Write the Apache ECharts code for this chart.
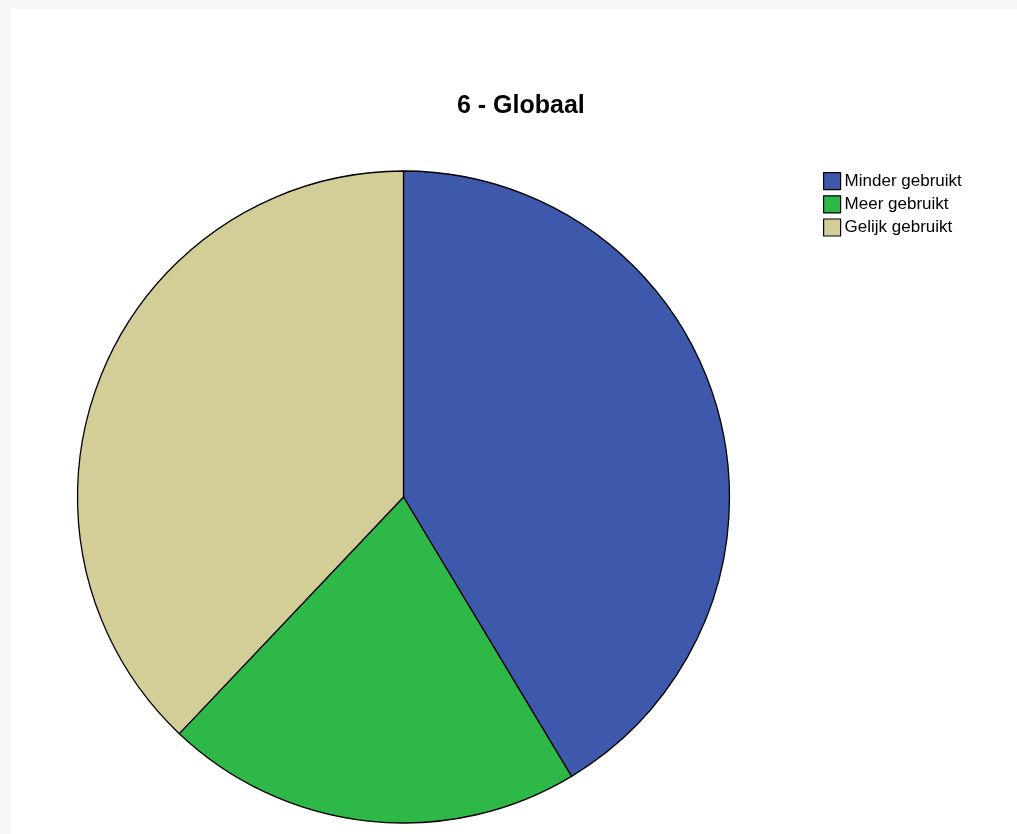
<!DOCTYPE html>
<html>
<head>
<meta charset="utf-8">
<script src="https://cdn.jsdelivr.net/npm/echarts@6/dist/echarts.min.js"></script>
<style>
html,body{margin:0;padding:0;width:1017px;height:834px;background:#f7f7f7;overflow:hidden;}
#panel{position:absolute;left:11px;top:9px;right:0;bottom:0;background:#ffffff;}
#chart{position:absolute;left:0;top:0;width:1017px;height:834px;}
</style>
</head>
<body>
<div id="panel"></div>
<div id="chart"></div>
<script>
const titleText = '6 - Globaal';
const categories = ['Minder gebruikt', 'Meer gebruikt', 'Gelijk gebruikt'];
const counts = [12, 6, 11];
const colors = ['#3e58ac', '#2eb848', '#d3ce97'];

const chart = echarts.init(document.getElementById('chart'), null, {renderer: 'canvas'});
chart.setOption({
  animation: false,
  backgroundColor: 'transparent',
  color: colors,
  title: {
    text: titleText,
    left: 452,
    top: 89,
    textStyle: {fontFamily: 'Liberation Sans, Arial, sans-serif', fontSize: 25, fontWeight: 'bold', color: '#000'}
  },
  legend: {
    orient: 'vertical',
    left: 823,
    top: 172,
    padding: 0,
    itemWidth: 17,
    itemHeight: 17,
    itemGap: 5,
    icon: 'rect',
    itemStyle: {borderColor: '#000', borderWidth: 1.2},
    textStyle: {fontFamily: 'Liberation Sans, Arial, sans-serif', fontSize: 17, color: '#000', padding: [0,0,0,-1]},
    data: categories
  },
  series: [{
    type: 'pie',
    center: [403.5, 497],
    radius: 326,
    startAngle: 90,
    clockwise: true,
    label: {show: false},
    labelLine: {show: false},
    emphasis: {disabled: true},
    itemStyle: {borderColor: '#000', borderWidth: 1.3},
    data: categories.map((c, i) => ({name: c, value: counts[i]}))
  }]
});
</script>
</body>
</html>
